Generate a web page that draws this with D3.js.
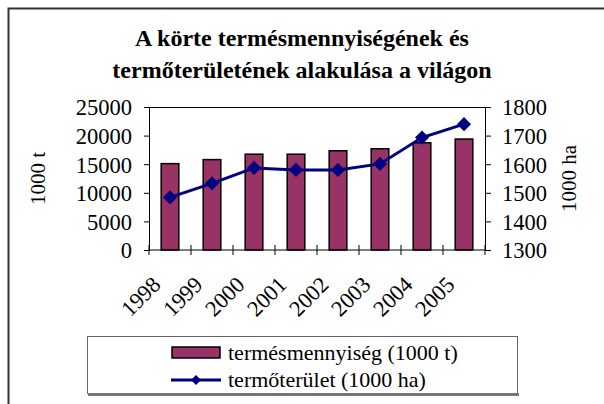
<!DOCTYPE html>
<html>
<head>
<meta charset="utf-8">
<script src="https://cdn.jsdelivr.net/npm/d3@7"></script>
<style>
  body { margin: 0; background: #fff; }
</style>
</head>
<body>
<div id="graph"></div>
<script>
// chart data
var years = ["1998", "1999", "2000", "2001", "2002", "2003", "2004", "2005"];
var yield_t = [15100, 15800, 16750, 16750, 17350, 17700, 18750, 19400];   // 1000 t
var area_ha = [1484, 1533, 1587, 1580, 1580, 1601, 1693, 1740];           // 1000 ha
var leftTicks = [0, 5000, 10000, 15000, 20000, 25000];
var rightTicks = [1300, 1400, 1500, 1600, 1700, 1800];

var width = 604, height = 404;
var plot = { left: 149, right: 485, top: 107, bottom: 250 };
var serif = "'Liberation Serif'";

var svg = d3.select("#graph").append("svg")
    .attr("width", width)
    .attr("height", height);

// outer frame (left + top only visible)
svg.append("path")
    .attr("d", "M8.5,404 V8.5 H604")
    .attr("fill", "none")
    .attr("stroke", "#333")
    .attr("stroke-width", 2);

// title
var title = svg.append("text")
    .attr("text-anchor", "middle")
    .attr("font-family", serif)
    .attr("font-size", 24)
    .attr("font-weight", "bold");
title.append("tspan").attr("x", 302).attr("y", 46).text("A körte termésmennyiségének és");
title.append("tspan").attr("x", 302).attr("y", 78).text("termőterületének alakulása a világon");

// scales
var x = d3.scaleBand()
    .domain(years)
    .range([plot.left, plot.right])
    .paddingInner(0.58)
    .paddingOuter(0.29);

var xBand = d3.scaleBand()
    .domain(years)
    .range([plot.left, plot.right]);

var yLeft = d3.scaleLinear()
    .domain([0, 25000])
    .range([plot.bottom, plot.top]);

var yRight = d3.scaleLinear()
    .domain([1300, 1800])
    .range([plot.bottom, plot.top]);

// plot area top border
svg.append("line")
    .attr("x1", plot.left).attr("x2", plot.right)
    .attr("y1", plot.top + 0.5).attr("y2", plot.top + 0.5)
    .attr("stroke", "#000");

// bars
svg.append("g")
    .selectAll("rect")
    .data(yield_t)
    .enter()
    .append("rect")
    .attr("x", (d, i) => x(years[i]))
    .attr("y", d => yLeft(d))
    .attr("width", x.bandwidth())
    .attr("height", d => yLeft(0) - yLeft(d))
    .attr("fill", "#993366")
    .attr("stroke", "#000")
    .attr("stroke-width", 1.5);

// left axis
var gl = svg.append("g")
    .attr("transform", "translate(" + plot.left + ",0)")
    .call(d3.axisLeft(yLeft).tickValues(leftTicks).tickSize(5).tickPadding(12).tickFormat(d3.format("d")));
gl.attr("font-family", serif).attr("font-size", 22.5);
gl.selectAll("text").attr("dy", "0.35em");

// right axis
var gr = svg.append("g")
    .attr("transform", "translate(" + plot.right + ",0)")
    .call(d3.axisRight(yRight).tickValues(rightTicks).tickSize(6).tickPadding(11).tickFormat(d3.format("d")));
gr.attr("font-family", serif).attr("font-size", 22.5);
gr.selectAll("text").attr("dy", "0.35em");

gl.select(".domain").attr("stroke", "#000");
gr.select(".domain").attr("stroke", "#000");

// x axis: ticks at category boundaries, crossing the axis
var gx = svg.append("g")
    .attr("transform", "translate(0," + plot.bottom + ")");
gx.append("line")
    .attr("x1", plot.left).attr("x2", plot.right)
    .attr("stroke", "#000");
gx.selectAll(".bnd")
    .data(years.concat(["end"]))
    .enter()
    .append("line")
    .attr("class", "bnd")
    .attr("x1", (d, i) => i < years.length ? xBand(d) : plot.right)
    .attr("x2", (d, i) => i < years.length ? xBand(d) : plot.right)
    .attr("y1", -5).attr("y2", 5)
    .attr("stroke", "#000");
gx.selectAll(".xl")
    .data(years)
    .enter()
    .append("text")
    .attr("class", "xl")
    .attr("text-anchor", "end")
    .attr("font-family", serif)
    .attr("font-size", 22.5)
    .attr("transform", d => "translate(" + (xBand(d) + xBand.bandwidth() / 2 - 8) + ",36) rotate(-45)")
    .text(d => d);

// line
var line = d3.line()
    .x((d, i) => xBand(years[i]) + xBand.bandwidth() / 2)
    .y(d => yRight(d));

svg.append("path")
    .datum(area_ha)
    .attr("d", line)
    .attr("fill", "none")
    .attr("stroke", "#000080")
    .attr("stroke-width", 3);

svg.append("g")
    .selectAll("path")
    .data(area_ha)
    .enter()
    .append("path")
    .attr("d", d3.symbol().type(d3.symbolSquare).size(100))
    .attr("transform", (d, i) => "translate(" + (xBand(years[i]) + xBand.bandwidth() / 2) + "," + yRight(d) + ") rotate(45)")
    .attr("fill", "#000080");

// axis titles
svg.append("text")
    .attr("text-anchor", "middle")
    .attr("font-family", serif)
    .attr("font-size", 21)
    .attr("transform", "translate(45," + ((plot.top + plot.bottom) / 2) + ") rotate(-90)")
    .text("1000 t");

svg.append("text")
    .attr("text-anchor", "middle")
    .attr("font-family", serif)
    .attr("font-size", 21)
    .attr("transform", "translate(576," + ((plot.top + plot.bottom) / 2) + ") rotate(-90)")
    .text("1000 ha");

// legend
var lg = svg.append("g");
lg.append("rect")
    .attr("x", 87.5).attr("y", 336.5)
    .attr("width", 430).attr("height", 57)
    .attr("fill", "#fff")
    .attr("stroke", "#666")
    .attr("stroke-width", 1);
lg.append("line")
    .attr("x1", 88).attr("x2", 519)
    .attr("y1", 394.5).attr("y2", 394.5)
    .attr("stroke", "#777")
    .attr("stroke-width", 3);

lg.append("rect")
    .attr("x", 172).attr("y", 347)
    .attr("width", 48).attr("height", 11)
    .attr("fill", "#993366")
    .attr("stroke", "#000")
    .attr("stroke-width", 1.5);
lg.append("text")
    .attr("x", 228).attr("y", 360)
    .attr("font-family", serif)
    .attr("font-size", 22)
    .text("termésmennyiség (1000 t)");

lg.append("line")
    .attr("x1", 171).attr("x2", 221)
    .attr("y1", 380).attr("y2", 380)
    .attr("stroke", "#000080")
    .attr("stroke-width", 3);
lg.append("path")
    .attr("d", d3.symbol().type(d3.symbolSquare).size(50))
    .attr("transform", "translate(196,380) rotate(45)")
    .attr("fill", "#000080");
lg.append("text")
    .attr("x", 228).attr("y", 387)
    .attr("font-family", serif)
    .attr("font-size", 22)
    .text("termőterület (1000 ha)");
</script>
</body>
</html>
